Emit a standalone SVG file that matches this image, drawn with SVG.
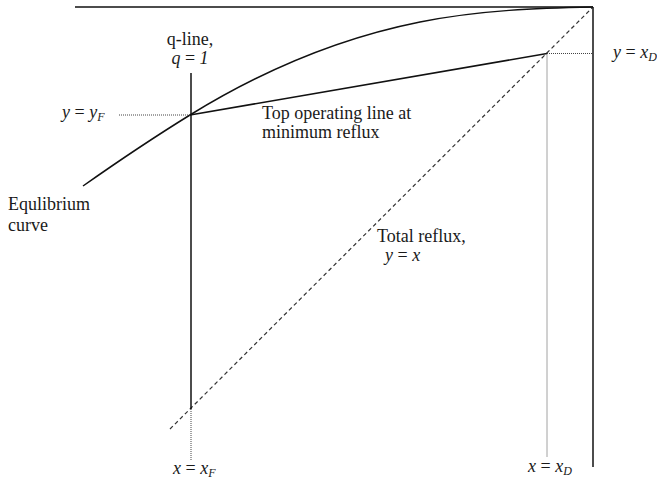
<svg xmlns="http://www.w3.org/2000/svg" width="657" height="483" viewBox="0 0 657 483">
<style>
  text { font-family: "Liberation Serif", "Times New Roman", Times, "DejaVu Serif", serif; font-size: 18px; fill: #1a1a1a; }
  .it { font-style: italic; }
  .sub { font-size: 12px; font-style: italic; }
  .solid { stroke: #111; stroke-width: 1.5; fill: none; }
  .dotted { stroke: #444; stroke-width: 1; stroke-dasharray: 1 1; fill: none; }
  .dashed { stroke: #333; stroke-width: 1.2; stroke-dasharray: 4 3; fill: none; }
</style>
<rect width="657" height="483" fill="#fff"/>
<g id="connectors">
  <line id="top-axis" class="solid" x1="75" y1="7" x2="593" y2="7"/>
  <line id="right-axis" class="solid" x1="593" y1="7" x2="593" y2="467"/>
  <line id="diagonal" class="dashed" x1="170" y1="429" x2="593" y2="7"/>
  <path id="equilibrium" class="solid" d="M83,186 C120,160 160,133.5 190,115 C250,78 330,40 420,22 C480,10 540,8 593,7"/>
  <line id="operating-line" class="solid" x1="190" y1="115" x2="547" y2="53.5"/>
  <line id="q-line" class="solid" x1="191" y1="73" x2="191" y2="409"/>
  <line class="dotted" x1="191" y1="409" x2="191" y2="460"/>
  <line class="dotted" x1="119" y1="115" x2="190" y2="115"/>
  <line class="dotted" x1="547" y1="53.5" x2="593" y2="53.5"/>
  <line class="dotted" x1="547" y1="53.5" x2="547" y2="457"/>
</g>
<g id="label-qline">
  <text x="190" y="45" text-anchor="middle">q-line,</text>
  <text x="190" y="64" text-anchor="middle"><tspan class="it">q</tspan> = <tspan class="it">1</tspan></text>
</g>
<g id="label-yF">
  <text x="62" y="118"><tspan class="it">y</tspan> = <tspan class="it">y</tspan><tspan class="sub" dy="3">F</tspan></text>
</g>
<g id="label-operating">
  <text x="262" y="119">Top operating line at</text>
  <text x="262" y="138">minimum reflux</text>
</g>
<g id="label-equilibrium">
  <text x="8" y="210">Equlibrium</text>
  <text x="8" y="231">curve</text>
</g>
<g id="label-total">
  <text x="377" y="242">Total reflux,</text>
  <text x="385" y="261"><tspan class="it">y</tspan> = <tspan class="it">x</tspan></text>
</g>
<g id="label-yD">
  <text x="613" y="58"><tspan class="it">y</tspan> = <tspan class="it">x</tspan><tspan class="sub" dy="3">D</tspan></text>
</g>
<g id="label-xF">
  <text x="173" y="474"><tspan class="it">x</tspan> = <tspan class="it">x</tspan><tspan class="sub" dy="3">F</tspan></text>
</g>
<g id="label-xD">
  <text x="528" y="472"><tspan class="it">x</tspan> = <tspan class="it">x</tspan><tspan class="sub" dy="3">D</tspan></text>
</g>
</svg>
